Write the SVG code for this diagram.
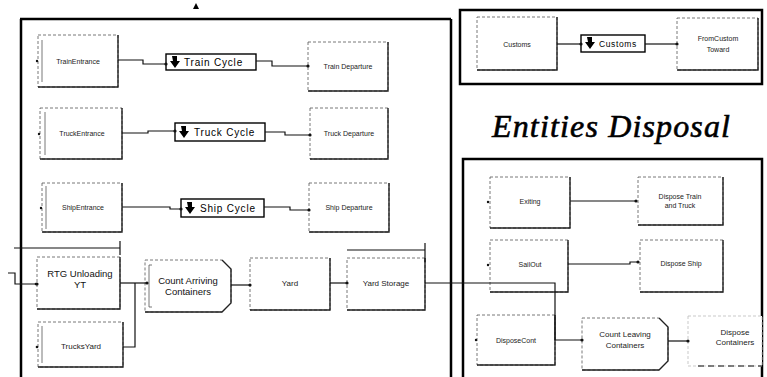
<svg xmlns="http://www.w3.org/2000/svg" width="767" height="377" viewBox="0 0 767 377">
<defs>
<style>
.frame{fill:none;stroke:#000;stroke-width:2.5}
.nb{fill:#fff;stroke:#555;stroke-width:0.8;stroke-dasharray:3 2}
.sh{fill:none;stroke:#222;stroke-width:1.4}
.il{fill:none;stroke:#555;stroke-width:0.8}
.cy{fill:#fff;stroke:#000;stroke-width:1.4}
.ar{fill:#000}
.lb{font-family:"Liberation Sans",Arial,sans-serif;font-size:7px;fill:#222;text-anchor:middle}
.lm{font-family:"Liberation Sans",Arial,sans-serif;font-size:9.5px;fill:#111;text-anchor:middle}
.ct{font-family:"Liberation Sans",Arial,sans-serif;font-size:10px;fill:#000;letter-spacing:0.8px}
.ttl{font-family:"Liberation Serif","Times New Roman",serif;font-size:32px;font-style:italic;fill:#000;stroke:#000;stroke-width:0.6;text-anchor:middle}
.cn{fill:none;stroke:#111;stroke-width:1.2}
.dot{fill:#111}
</style>
<marker id="pt" viewBox="0 0 4 4" refX="2" refY="2" markerWidth="4" markerHeight="4" markerUnits="userSpaceOnUse"><circle cx="2" cy="2" r="1.6" fill="#111"/></marker>
<symbol id="dn" viewBox="0 0 10 12"><polygon points="2,0 7,0 7,5 10,5 5,12 0,5 3,5" fill="#000"/></symbol>
</defs>

<g id="frames">
<path class="frame" d="M20 19 H451 M21 19 V377 M451 19 V377"/>
<rect class="frame" x="460" y="10" width="302" height="74"/>
<path class="frame" d="M463 377 V159 H762 V377"/>
<polygon points="193,9 196,3 199,9" fill="#000"/>
</g>

<text class="ttl" x="611" y="137" textLength="238" lengthAdjust="spacing">Entities Disposal</text>

<g id="TrainEntrance"><rect class="nb" x="38" y="35" width="80" height="52"/><path class="sh" d="M118 35 V87 H38"/><path class="il" d="M42 40 V82"/><circle class="dot" cx="37" cy="61" r="1.2"/><text class="lb" x="78" y="64">TrainEntrance</text></g>
<g id="TrainCycle"><rect class="cy" x="166" y="54" width="90" height="16"/><use href="#dn" x="170" y="56" width="10" height="12"/><text class="ct" x="184" y="66">Train Cycle</text></g>
<g id="TrainDeparture"><rect class="nb" x="308" y="42" width="80" height="49"/><path class="sh" d="M388 42 V91 H308"/><text class="lb" x="348" y="69">Train Departure</text></g>

<g id="TruckEntrance"><rect class="nb" x="40" y="108" width="82" height="51"/><path class="sh" d="M122 108 V159 H40"/><path class="il" d="M45 112 V155"/><circle class="dot" cx="39" cy="134" r="1.2"/><text class="lb" x="82" y="136">TruckEntrance</text></g>
<g id="TruckCycle"><rect class="cy" x="175" y="123" width="90" height="18"/><use href="#dn" x="179" y="126" width="10" height="12"/><text class="ct" x="194" y="136">Truck Cycle</text></g>
<g id="TruckDeparture"><rect class="nb" x="310" y="108" width="78" height="51"/><path class="sh" d="M388 108 V159 H310"/><text class="lb" x="349" y="136">Truck Departure</text></g>

<g id="ShipEntrance"><rect class="nb" x="42" y="183" width="80" height="49"/><path class="sh" d="M122 183 V232 H42"/><path class="il" d="M46 186 V229"/><circle class="dot" cx="41" cy="208" r="1.2"/><text class="lb" x="83" y="210">ShipEntrance</text></g>
<g id="ShipCycle"><rect class="cy" x="181" y="199" width="83" height="18"/><use href="#dn" x="185" y="202" width="10" height="12"/><text class="ct" x="200" y="212">Ship Cycle</text></g>
<g id="ShipDeparture"><rect class="nb" x="309" y="183" width="80" height="49"/><path class="sh" d="M389 183 V232 H309"/><text class="lb" x="349" y="210">Ship Departure</text></g>

<g id="RTGUnloadingYT"><rect class="nb" x="37" y="257" width="83" height="52"/><path class="sh" d="M120 257 V309 H37"/><circle class="dot" cx="36" cy="284" r="1.3"/><text class="lm" x="80" y="277">RTG Unloading</text><text class="lm" x="80" y="288">YT</text></g>
<g id="TrucksYard"><rect class="nb" x="38" y="322" width="85" height="45"/><path class="sh" d="M123 322 V367 H38"/><path class="il" d="M42 326 V363"/><circle class="dot" cx="37" cy="347" r="1.3"/><text class="lb" x="81" y="349" style="font-size:8px">TrucksYard</text></g>
<g id="CountArrivingContainers"><path class="nb" d="M145 260 H222 L231 269 V303 L222 312 H145 Z"/><path class="sh" d="M222 260 L231 269 V303 L222 312 H145"/><path class="il" d="M152 265 H149 V307 H152"/><text class="lm" x="188" y="284">Count Arriving</text><text class="lm" x="188" y="295">Containers</text></g>
<g id="Yard"><rect class="nb" x="250" y="258" width="80" height="52"/><path class="sh" d="M330 258 V310 H250"/><text class="lb" x="290" y="286" style="font-size:8px">Yard</text></g>
<g id="YardStorage"><rect class="nb" x="347" y="258" width="78" height="52"/><path class="sh" d="M425 258 V310 H347"/><text class="lb" x="386" y="286" style="font-size:8px">Yard Storage</text></g>

<g id="Customs"><rect class="nb" x="477" y="17" width="80" height="53"/><path class="sh" d="M557 17 V70 H477"/><text class="lb" x="517" y="47">Customs</text></g>
<g id="CustomsCycle"><rect class="cy" x="581" y="35" width="64" height="17"/><use href="#dn" x="585" y="37" width="10" height="12"/><text class="ct" x="599" y="47" style="font-size:8.5px;letter-spacing:0.6px">Customs</text></g>
<g id="FromCustomToward"><rect class="nb" x="677" y="18" width="81" height="52"/><path class="sh" d="M758 18 V70 H677"/><text class="lb" x="718" y="41">FromCustom</text><text class="lb" x="718" y="52">Toward</text></g>

<g id="Exiting"><rect class="nb" x="490" y="177" width="80" height="51"/><path class="sh" d="M570 177 V228 H490"/><circle class="dot" cx="488" cy="202" r="1.2"/><text class="lb" x="530" y="204">Exiting</text></g>
<g id="DisposeTrainAndTruck"><rect class="nb" x="638" y="177" width="85" height="48"/><path class="sh" d="M723 177 V225 H638"/><text class="lb" x="680" y="199">Dispose Train</text><text class="lb" x="680" y="208">and Truck</text></g>
<g id="SailOut"><rect class="nb" x="490" y="240" width="78" height="52"/><path class="sh" d="M568 240 V292 H490"/><circle class="dot" cx="488" cy="265" r="1.2"/><text class="lb" x="530" y="267">SailOut</text></g>
<g id="DisposeShip"><rect class="nb" x="640" y="240" width="83" height="52"/><path class="sh" d="M723 240 V292 H640"/><text class="lb" x="681" y="266">Dispose Ship</text></g>
<g id="DisposeCont"><rect class="nb" x="477" y="315" width="78" height="50"/><path class="sh" d="M555 315 V365 H477"/><circle class="dot" cx="476" cy="340" r="1.2"/><text class="lb" x="516" y="343">DisposeCont</text></g>
<g id="CountLeavingContainers"><path class="nb" d="M582 318 H659 L668 327 V361 L659 370 H582 Z"/><path class="sh" d="M659 318 L668 327 V361 L659 370 H582"/><text class="lb" x="625" y="337" style="font-size:8px">Count Leaving</text><text class="lb" x="625" y="348" style="font-size:8px">Containers</text></g>
<g id="DisposeContainers"><rect class="nb" x="688" y="316" width="74" height="50" style="stroke:#bbb"/><path class="sh" d="M698 366 H762" style="stroke-dasharray:6 4;stroke:#555"/><text class="lb" x="735" y="335" style="font-size:8px">Dispose</text><text class="lb" x="735" y="345" style="font-size:8px">Containers</text></g>

<g id="connectors">
<path class="cn" marker-end="url(#pt)" d="M118 60 H143 V64 H166"/>
<path class="cn" marker-end="url(#pt)" d="M256 61 H272 V66 H308"/>
<path class="cn" marker-end="url(#pt)" d="M122 133 H148 V131 H175"/>
<path class="cn" marker-end="url(#pt)" d="M265 132 H285 V135 H310"/>
<path class="cn" marker-end="url(#pt)" d="M122 207 H170 V209 H181"/>
<path class="cn" marker-end="url(#pt)" d="M264 207 H290 V210 H309"/>
<path class="cn" d="M14 248 H120 M120 241 V255"/>
<path class="cn" d="M347 250 H425 M425 243 V262"/>
<path class="cn" marker-end="url(#pt)" d="M8 273 H15 V284 H37"/>
<path class="cn" marker-end="url(#pt)" d="M120 283 H147"/>
<path class="cn" d="M123 347 H135 V283"/>
<path class="cn" marker-end="url(#pt)" d="M231 285 H250"/>
<path class="cn" marker-end="url(#pt)" d="M330 283 H347"/>
<path class="cn" marker-end="url(#pt)" d="M425 283 H555 V340 H582"/>
<path class="cn" marker-end="url(#pt)" d="M557 44 H581"/>
<path class="cn" marker-end="url(#pt)" d="M645 44 H677"/>
<path class="cn" marker-end="url(#pt)" d="M570 201 H636"/>
<path class="cn" marker-end="url(#pt)" d="M568 264 H630 V262 H638"/>
<path class="cn" marker-end="url(#pt)" d="M668 341 H688"/>
</g>
</svg>
